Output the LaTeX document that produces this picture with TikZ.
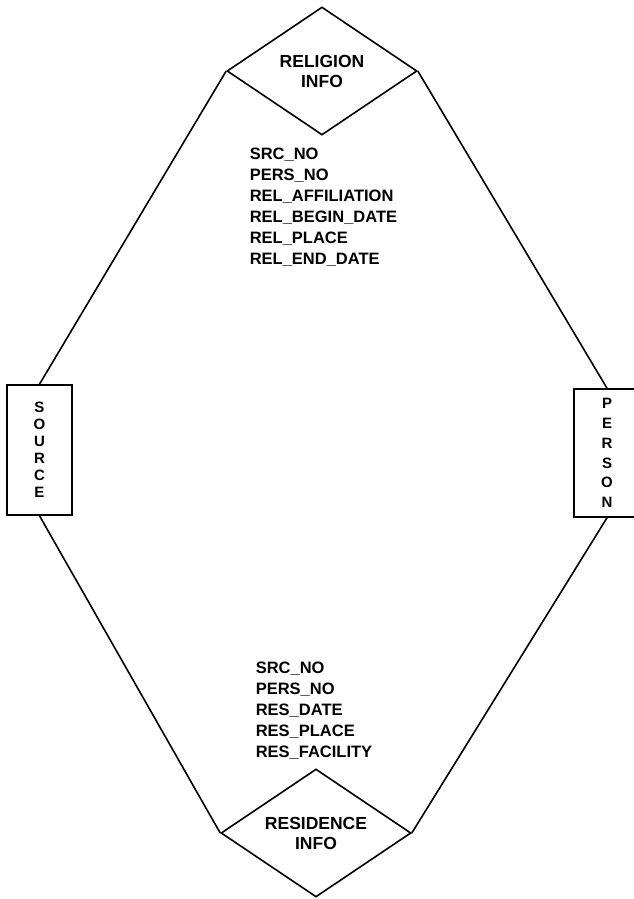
\documentclass[tikz,border=0pt]{standalone}
\usepackage{fontspec}
\setmainfont{Liberation Sans}
\usetikzlibrary{shapes.geometric}
\begin{document}
\begin{tikzpicture}[x=1pt,y=-1pt,line width=1.6pt,
  rel/.style={diamond,draw,inner sep=0pt,minimum width=190pt,minimum height=128pt,aspect=1.5,align=center,font=\bfseries\fontsize{17.5}{20}\selectfont},
  ent/.style={draw,rectangle,inner sep=0pt,align=center,minimum width=65pt,minimum height=130pt},
  attrs/.style={align=left,anchor=north west,inner sep=0pt,font=\bfseries\fontsize{16.5}{21}\selectfont}]
\useasboundingbox (0,0) rectangle (634,899);
\clip (0,0) rectangle (634,899);
\node[rel] (rel) at (322,71) {RELIGION\\INFO};
\node[rel] (res) at (316,833) {RESIDENCE\\INFO};
\node[ent,font=\bfseries\fontsize{15}{17}\selectfont] (src) at (39.5,450) {S\\O\\U\\R\\C\\E};
\node[ent,minimum width=66pt,minimum height=128pt,font=\bfseries\fontsize{15}{19.8}\selectfont] (pers) at (607,453) {P\\E\\R\\S\\O\\N};
\draw (rel.west) -- (src.north);
\draw (rel.east) -- (pers.north);
\draw (src.south) -- (res.west);
\draw (pers.south) -- (res.east);
\node[attrs] (relattr) at (249,147) {SRC\_NO\\PERS\_NO\\REL\_AFFILIATION\\REL\_BEGIN\_DATE\\REL\_PLACE\\REL\_END\_DATE};
\node[attrs] (resattr) at (255,661) {SRC\_NO\\PERS\_NO\\RES\_DATE\\RES\_PLACE\\RES\_FACILITY};
\end{tikzpicture}
\end{document}
